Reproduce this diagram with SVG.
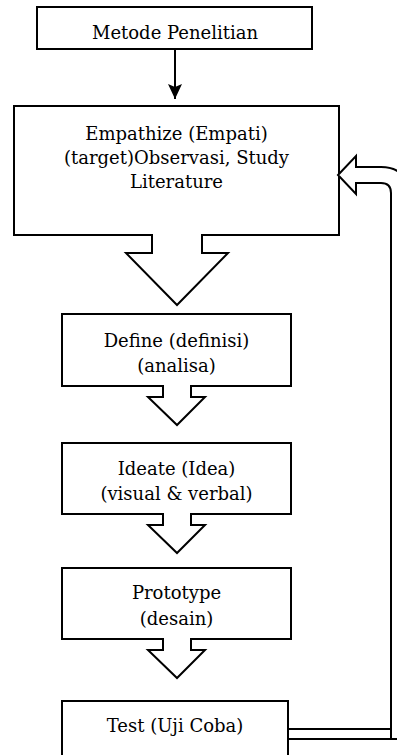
<svg xmlns="http://www.w3.org/2000/svg" width="397" height="755" viewBox="0 0 397 755">
<style>
.box{fill:#fff;stroke:#000;stroke-width:2}
.blk{fill:#fff;stroke:#000;stroke-width:2;stroke-linejoin:miter}
text{font-family:"DejaVu Serif","Liberation Serif",serif;font-size:18px;fill:#000;text-anchor:middle}
</style>
<defs>
<marker id="ah" markerWidth="16" markerHeight="14" refX="15" refY="7" orient="auto" markerUnits="userSpaceOnUse" viewBox="0 0 16 14">
<path d="M0,0 L15,7 L0,14 L3,7 Z" fill="#000"/>
</marker>
</defs>
<rect width="397" height="755" fill="#fff"/>
<g id="metode">
<rect class="box" x="37" y="7" width="275" height="42"/>
<text x="175" y="39">Metode Penelitian</text>
</g>
<g id="empathize">
<rect class="box" x="14" y="106" width="325" height="129"/>
<text x="176.5" y="140">Empathize (Empati)</text>
<text x="176.5" y="164">(target)Observasi, Study</text>
<text x="176.5" y="188">Literature</text>
</g>
<g id="define">
<rect class="box" x="62" y="314" width="229" height="72"/>
<text x="176.5" y="347">Define (definisi)</text>
<text x="176.5" y="372">(analisa)</text>
</g>
<g id="ideate">
<rect class="box" x="62" y="443" width="229" height="71"/>
<text x="176.5" y="475">Ideate (Idea)</text>
<text x="176.5" y="500">(visual &amp; verbal)</text>
</g>
<g id="prototype">
<rect class="box" x="62" y="568" width="229" height="71"/>
<text x="176.5" y="599">Prototype</text>
<text x="176.5" y="625">(desain)</text>
</g>
<g id="test">
<rect class="box" x="62" y="701" width="226" height="70"/>
<text x="175" y="732">Test (Uji Coba)</text>
</g>
<g id="connectors">
<line x1="175" y1="49" x2="175" y2="99" stroke="#000" stroke-width="2" marker-end="url(#ah)"/>
<path class="blk" d="M152,234 V253 H126 L177,305 L228,253 H202 V234"/>
<path class="blk" d="M163,385 V397 H148 L177,425 L205,397 H191 V385"/>
<path class="blk" d="M163,513 V525 H148 L177,553 L205,525 H191 V513"/>
<path class="blk" d="M163,638 V650 H148 L177,678 L205,650 H191 V638"/>
<path class="blk" d="M288,739 H407 V193 Q407,167 381,167 H356 V156 L338,175 L356,194 V183 H381 Q391,183 391,193 V729 H288"/>
<line x1="391" y1="728" x2="391" y2="740" stroke="#000" stroke-width="2"/>
<line x1="288" y1="700" x2="288" y2="755" stroke="#000" stroke-width="2"/>
</g>
</svg>
